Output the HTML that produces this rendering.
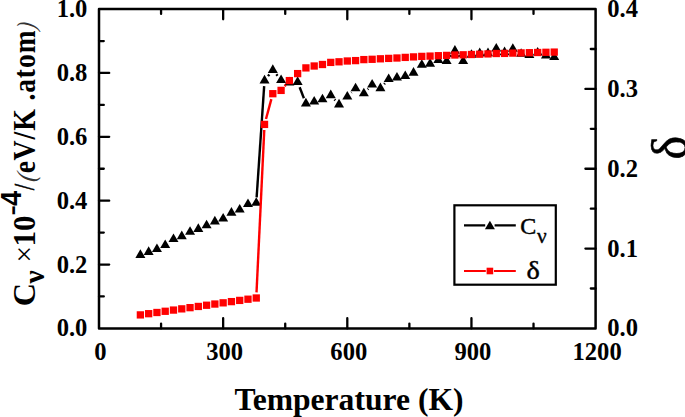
<!DOCTYPE html>
<html><head><meta charset="utf-8"><title>Cv and delta vs Temperature</title>
<style>html,body{margin:0;padding:0;background:#fff}svg{display:block}</style></head>
<body>
<svg width="685" height="417" viewBox="0 0 685 417">
<rect width="685" height="417" fill="#fff"/>
<g id="cv"><line x1="256.63" y1="197.34" x2="264.16" y2="86.12" stroke="#000" stroke-width="2.4"/>
<line x1="268.00" y1="76.13" x2="269.34" y2="74.43" stroke="#000" stroke-width="2.4"/>
<line x1="276.36" y1="74.36" x2="277.54" y2="75.80" stroke="#000" stroke-width="2.4"/>
<line x1="299.65" y1="87.26" x2="303.90" y2="98.30" stroke="#000" stroke-width="2.4"/>
<line x1="334.49" y1="99.49" x2="335.28" y2="100.37" stroke="#000" stroke-width="2.4"/>
<line x1="351.28" y1="92.69" x2="351.60" y2="92.37" stroke="#000" stroke-width="2.4"/>
<line x1="367.69" y1="89.35" x2="368.29" y2="88.71" stroke="#000" stroke-width="2.4"/>
<line x1="384.15" y1="84.17" x2="384.94" y2="83.29" stroke="#000" stroke-width="2.4"/>
<line x1="450.11" y1="56.85" x2="451.41" y2="55.21" stroke="#000" stroke-width="2.4"/>
<line x1="458.38" y1="55.21" x2="459.69" y2="56.85" stroke="#000" stroke-width="2.4"/>
<g fill="#000"><path d="M135.38 257.90L145.38 257.90L140.38 249.30Z"/><path d="M143.66 254.90L153.66 254.90L148.66 246.30Z"/><path d="M151.94 252.00L161.94 252.00L156.94 243.40Z"/><path d="M160.21 248.00L170.21 248.00L165.21 239.40Z"/><path d="M168.49 242.10L178.49 242.10L173.49 233.50Z"/><path d="M176.77 239.20L186.77 239.20L181.77 230.60Z"/><path d="M185.04 234.80L195.04 234.80L190.04 226.20Z"/><path d="M193.32 231.90L203.32 231.90L198.32 223.30Z"/><path d="M201.60 228.30L211.60 228.30L206.60 219.70Z"/><path d="M209.87 224.40L219.87 224.40L214.87 215.80Z"/><path d="M218.15 221.50L228.15 221.50L223.15 212.90Z"/><path d="M226.43 215.70L236.43 215.70L231.43 207.10Z"/><path d="M234.70 212.50L244.70 212.50L239.70 203.90Z"/><path d="M242.98 207.10L252.98 207.10L247.98 198.50Z"/><path d="M251.26 205.80L261.26 205.80L256.26 197.20Z"/><path d="M259.53 83.40L269.53 83.40L264.53 74.80Z"/><path d="M267.81 72.90L277.81 72.90L272.81 64.30Z"/><path d="M276.09 83.00L286.09 83.00L281.09 74.40Z"/><path d="M284.36 85.40L294.36 85.40L289.36 76.80Z"/><path d="M292.64 84.90L302.64 84.90L297.64 76.30Z"/><path d="M300.92 106.40L310.92 106.40L305.92 97.80Z"/><path d="M309.19 104.50L319.19 104.50L314.19 95.90Z"/><path d="M317.47 102.30L327.47 102.30L322.47 93.70Z"/><path d="M325.75 98.20L335.75 98.20L330.75 89.60Z"/><path d="M334.02 107.40L344.02 107.40L339.02 98.80Z"/><path d="M342.30 99.50L352.30 99.50L347.30 90.90Z"/><path d="M350.58 91.30L360.58 91.30L355.58 82.70Z"/><path d="M358.85 96.30L368.85 96.30L363.85 87.70Z"/><path d="M367.13 87.50L377.13 87.50L372.13 78.90Z"/><path d="M375.41 91.20L385.41 91.20L380.41 82.60Z"/><path d="M383.68 82.00L393.68 82.00L388.68 73.40Z"/><path d="M391.96 80.50L401.96 80.50L396.96 71.90Z"/><path d="M400.24 79.10L410.24 79.10L405.24 70.50Z"/><path d="M408.51 75.70L418.51 75.70L413.51 67.10Z"/><path d="M416.79 67.80L426.79 67.80L421.79 59.20Z"/><path d="M425.07 66.70L435.07 66.70L430.07 58.10Z"/><path d="M433.34 63.10L443.34 63.10L438.34 54.50Z"/><path d="M441.62 64.10L451.62 64.10L446.62 55.50Z"/><path d="M449.90 53.70L459.90 53.70L454.90 45.10Z"/><path d="M458.17 64.10L468.17 64.10L463.17 55.50Z"/><path d="M466.45 57.80L476.45 57.80L471.45 49.20Z"/><path d="M474.73 56.20L484.73 56.20L479.73 47.60Z"/><path d="M483.00 56.20L493.00 56.20L488.00 47.60Z"/><path d="M491.28 51.50L501.28 51.50L496.28 42.90Z"/><path d="M499.56 55.20L509.56 55.20L504.56 46.60Z"/><path d="M507.83 51.80L517.83 51.80L512.83 43.20Z"/><path d="M516.11 56.80L526.11 56.80L521.11 48.20Z"/><path d="M524.39 57.90L534.39 57.90L529.39 49.30Z"/><path d="M532.66 55.60L542.66 55.60L537.66 47.00Z"/><path d="M540.94 58.40L550.94 58.40L545.94 49.80Z"/><path d="M549.22 60.10L559.22 60.10L554.22 51.50Z"/></g></g>
<g id="delta"><line x1="256.52" y1="292.41" x2="264.27" y2="129.99" stroke="#f00" stroke-width="2.4"/>
<line x1="265.99" y1="118.99" x2="271.35" y2="99.11" stroke="#f00" stroke-width="2.4"/>
<line x1="284.70" y1="86.12" x2="285.75" y2="84.88" stroke="#f00" stroke-width="2.4"/>
<g fill="#f00"><rect x="136.73" y="311.25" width="7.3" height="7.3"/><rect x="145.01" y="310.04" width="7.3" height="7.3"/><rect x="153.29" y="308.84" width="7.3" height="7.3"/><rect x="161.56" y="307.63" width="7.3" height="7.3"/><rect x="169.84" y="306.42" width="7.3" height="7.3"/><rect x="178.12" y="305.21" width="7.3" height="7.3"/><rect x="186.39" y="304.01" width="7.3" height="7.3"/><rect x="194.67" y="302.80" width="7.3" height="7.3"/><rect x="202.95" y="301.59" width="7.3" height="7.3"/><rect x="211.22" y="300.39" width="7.3" height="7.3"/><rect x="219.50" y="299.18" width="7.3" height="7.3"/><rect x="227.78" y="297.97" width="7.3" height="7.3"/><rect x="236.05" y="296.76" width="7.3" height="7.3"/><rect x="244.33" y="295.56" width="7.3" height="7.3"/><rect x="252.61" y="294.35" width="7.3" height="7.3"/><rect x="260.88" y="120.75" width="7.3" height="7.3"/><rect x="269.16" y="90.05" width="7.3" height="7.3"/><rect x="277.44" y="86.75" width="7.3" height="7.3"/><rect x="285.71" y="76.95" width="7.3" height="7.3"/><rect x="293.99" y="69.95" width="7.3" height="7.3"/><rect x="302.27" y="64.25" width="7.3" height="7.3"/><rect x="310.54" y="62.35" width="7.3" height="7.3"/><rect x="318.82" y="60.85" width="7.3" height="7.3"/><rect x="327.10" y="58.75" width="7.3" height="7.3"/><rect x="335.37" y="58.15" width="7.3" height="7.3"/><rect x="343.65" y="57.35" width="7.3" height="7.3"/><rect x="351.93" y="56.95" width="7.3" height="7.3"/><rect x="360.20" y="55.95" width="7.3" height="7.3"/><rect x="368.48" y="55.65" width="7.3" height="7.3"/><rect x="376.76" y="55.15" width="7.3" height="7.3"/><rect x="385.03" y="54.75" width="7.3" height="7.3"/><rect x="393.31" y="54.35" width="7.3" height="7.3"/><rect x="401.59" y="53.75" width="7.3" height="7.3"/><rect x="409.86" y="53.25" width="7.3" height="7.3"/><rect x="418.14" y="52.75" width="7.3" height="7.3"/><rect x="426.42" y="52.45" width="7.3" height="7.3"/><rect x="434.69" y="52.05" width="7.3" height="7.3"/><rect x="442.97" y="51.75" width="7.3" height="7.3"/><rect x="451.25" y="51.35" width="7.3" height="7.3"/><rect x="459.52" y="51.15" width="7.3" height="7.3"/><rect x="467.80" y="50.85" width="7.3" height="7.3"/><rect x="476.08" y="50.55" width="7.3" height="7.3"/><rect x="484.35" y="50.25" width="7.3" height="7.3"/><rect x="492.63" y="49.85" width="7.3" height="7.3"/><rect x="500.91" y="49.75" width="7.3" height="7.3"/><rect x="509.18" y="49.45" width="7.3" height="7.3"/><rect x="517.46" y="49.25" width="7.3" height="7.3"/><rect x="525.74" y="49.05" width="7.3" height="7.3"/><rect x="534.01" y="48.85" width="7.3" height="7.3"/><rect x="542.29" y="48.65" width="7.3" height="7.3"/><rect x="550.57" y="48.45" width="7.3" height="7.3"/></g></g>
<rect x="99.0" y="9.1" width="496.6" height="319.29999999999995" fill="none" stroke="#000" stroke-width="2.5" stroke-linejoin="round"/>
<path d="M161.07 328.4v-4.8 M161.07 9.1v4.8 M223.15 328.4v-10.2 M223.15 9.1v10.2 M285.23 328.4v-4.8 M285.23 9.1v4.8 M347.30 328.4v-10.2 M347.30 9.1v10.2 M409.38 328.4v-4.8 M409.38 9.1v4.8 M471.45 328.4v-10.2 M471.45 9.1v10.2 M533.52 328.4v-4.8 M533.52 9.1v4.8 M99.0 296.47h4.8 M99.0 264.54h10.2 M99.0 232.61h4.8 M99.0 200.68h10.2 M99.0 168.75h4.8 M99.0 136.82h10.2 M99.0 104.89h4.8 M99.0 72.96h10.2 M99.0 41.03h4.8 M595.6 288.49h-4.8 M595.6 248.57h-10.2 M595.6 208.66h-4.8 M595.6 168.75h-10.2 M595.6 128.84h-4.8 M595.6 88.93h-10.2 M595.6 49.01h-4.8" stroke="#000" stroke-width="2.3" stroke-linecap="round" fill="none"/>
<g font-family="'Liberation Serif', 'Times New Roman', serif" font-weight="bold" font-size="24.6" fill="#000">
<text x="87.4" y="336.1" text-anchor="end">0.0</text>
<text x="87.4" y="272.7" text-anchor="end">0.2</text>
<text x="87.4" y="208.9" text-anchor="end">0.4</text>
<text x="87.4" y="145.0" text-anchor="end">0.6</text>
<text x="87.4" y="81.2" text-anchor="end">0.8</text>
<text x="87.4" y="17.3" text-anchor="end">1.0</text>
<text x="607.2" y="336.0">0.0</text>
<text x="607.2" y="256.8">0.1</text>
<text x="607.2" y="176.9">0.2</text>
<text x="607.2" y="97.1">0.3</text>
<text x="607.2" y="17.3">0.4</text>
<text x="100.5" y="360.4" text-anchor="middle">0</text>
<text x="224.7" y="360.4" text-anchor="middle">300</text>
<text x="348.8" y="360.4" text-anchor="middle">600</text>
<text x="472.9" y="360.4" text-anchor="middle">900</text>
<text x="597.1" y="360.4" text-anchor="middle">1200</text>
</g>
<text x="349" y="410.2" text-anchor="middle" font-family="'Liberation Serif', 'Times New Roman', serif" font-weight="bold" font-size="31.6">Temperature (K)</text>
<g id="ylabel" fill="#000"><text transform="translate(34.70 182.20) rotate(-90) scale(0.7561 0.8590) skewX(-10)" font-family="'Liberation Serif', 'Times New Roman', serif" font-weight="normal" font-style="italic" font-size="31" fill="#333" style="font-kerning:none">(</text>
<text transform="translate(35.10 30.30) rotate(-90) scale(0.6670 0.8482) skewX(-10)" font-family="'Liberation Serif', 'Times New Roman', serif" font-weight="normal" font-style="italic" font-size="31" fill="#333" style="font-kerning:none">)</text>
<text transform="translate(35.10 306.30) rotate(-90) scale(1.0422 1.0000)" font-family="'Liberation Serif', 'Times New Roman', serif" font-weight="bold" font-style="normal" font-size="31" fill="#000" style="font-kerning:none">C</text>
<text transform="translate(44.30 283.40) rotate(-90) scale(1.0936 1.0572)" font-family="'Liberation Serif', 'Times New Roman', serif" font-weight="bold" font-style="normal" font-size="27" fill="#000" style="font-kerning:none">ν</text>
<text transform="translate(34.30 262.40) rotate(-90) scale(1.0000 1.0000)" font-family="'Liberation Serif', 'Times New Roman', serif" font-weight="normal" font-style="normal" font-size="29.5" fill="#000" style="font-kerning:none">×</text>
<text transform="translate(35.10 246.50) rotate(-90) scale(1.0000 1.0000)" font-family="'Liberation Serif', 'Times New Roman', serif" font-weight="bold" font-style="normal" font-size="31" fill="#000" style="font-kerning:none">10</text>
<text transform="translate(19.10 215.40) rotate(-90) scale(1.4145 1.0000)" font-family="'Liberation Sans', Arial, sans-serif" font-weight="bold" font-style="normal" font-size="22" fill="#000" style="font-kerning:none">-</text>
<text transform="translate(21.10 206.00) rotate(-90) scale(0.9712 1.0458)" font-family="'Liberation Sans', Arial, sans-serif" font-weight="bold" font-style="normal" font-size="28" fill="#000" style="font-kerning:none">4</text>
<text transform="translate(33.90 190.20) rotate(-90) scale(0.7410 0.9502)" font-family="'Liberation Serif', 'Times New Roman', serif" font-weight="normal" font-style="normal" font-size="31" fill="#000" style="font-kerning:none" stroke="#000" stroke-width="0.7">/</text>
<text transform="translate(35.1 173.30) rotate(-90) scale(0.8963 1)" font-family="'Liberation Serif', 'Times New Roman', serif" font-weight="bold" font-size="31" style="font-kerning:none" dx="0.00 0.46 1.18 1.01" fill="#000">eV/K</text>
<text transform="translate(35.1 100.62) rotate(-90) scale(0.8828 1)" font-family="'Liberation Serif', 'Times New Roman', serif" font-weight="bold" font-size="31" style="font-kerning:none" dx="0.00 1.07 1.16 1.08 1.44" fill="#000">.atom</text></g>
<text transform="translate(687.20 159.44) rotate(-90) scale(1.0951 1.0909)" font-family="'Liberation Serif', 'Times New Roman', serif" font-weight="normal" font-size="46" fill="#000" stroke="#000" stroke-width="0.5">δ</text>
<rect x="454.4" y="205.3" width="101.4" height="79.4" fill="#fff" stroke="#000" stroke-width="2.2"/>
<path d="M464 225.4H485.2M494.6 225.4H515.8" stroke="#000" stroke-width="2.1" fill="none"/>
<g fill="#000"><path d="M484.90 229.30L494.90 229.30L489.90 220.70Z"/></g>
<path d="M464 271H485.8M494 271H515.8" stroke="#f00" stroke-width="2.1" fill="none"/>
<g fill="#f00"><rect x="486.60" y="267.70" width="6.6" height="6.6"/></g>
<text x="520.3" y="233.6" font-family="'Liberation Serif', 'Times New Roman', serif" font-size="24" stroke="#000" stroke-width="0.45">C<tspan dy="9.0" dx="0.6" font-size="21.5" stroke-width="0.35">ν</tspan></text>
<text transform="translate(526.6 278.9) scale(1.13 1)" font-family="'Liberation Serif', 'Times New Roman', serif" font-size="25" stroke="#000" stroke-width="0.45">δ</text>
</svg>
</body></html>
